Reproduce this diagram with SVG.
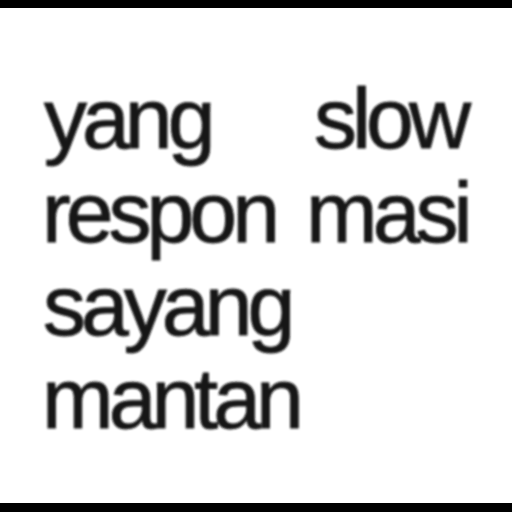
<svg xmlns="http://www.w3.org/2000/svg" width="512" height="512" viewBox="0 0 512 512">
<defs>
<filter id="soft" x="-5%" y="-5%" width="110%" height="110%"><feGaussianBlur stdDeviation="1"/></filter>
</defs>
<style>
.t{font-family:"Liberation Sans",Arial,sans-serif;font-size:86px;letter-spacing:-5px;fill:#141414;stroke:#141414;stroke-width:0.9px}
</style>
<rect width="512" height="512" fill="#fff"/>
<rect x="0" y="0" width="512" height="8" fill="#000"/>
<rect x="0" y="503" width="512" height="9" fill="#000"/>
<g filter="url(#soft)">
<text class="t" x="44" y="148">yang</text>
<text class="t" x="314" y="148">slow</text>
<text class="t" x="42" y="242">respon</text>
<text class="t" x="306" y="242">masi</text>
<text class="t" x="43" y="335">sayang</text>
<text class="t" x="42" y="428">mantan</text>
</g>
</svg>
